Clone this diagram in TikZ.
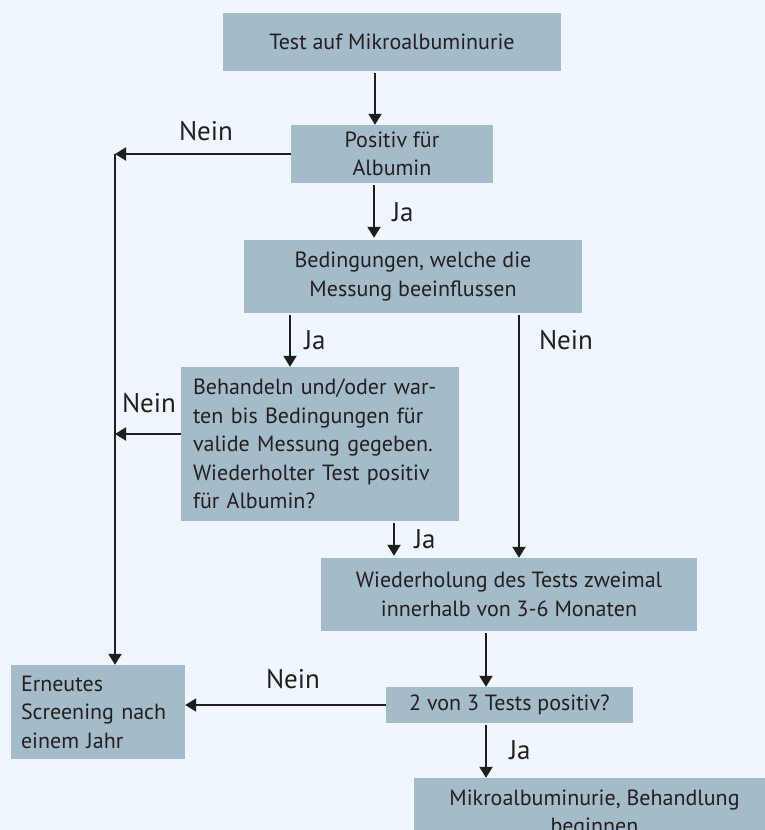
\documentclass[tikz,border=0pt]{standalone}
\usepackage{fontspec}
\setmainfont{PT Sans}
\usetikzlibrary{arrows.meta}
\definecolor{bgc}{HTML}{EFF6FE}
\definecolor{boxc}{HTML}{A4BBCA}
\definecolor{txt}{HTML}{231F20}
\definecolor{arrc}{HTML}{1E1E1E}
\newcommand{\bodyfont}{\fontsize{22}{28.5}\selectfont}
\newcommand{\labfont}{\fontsize{27}{30}\selectfont}
\tikzset{
  box/.style={fill=boxc, draw=none, inner sep=0pt, font=\bodyfont, text=txt},
  arr/.style={draw=arrc, line width=2pt, -{Triangle[width=13pt,length=11pt]}},
  lab/.style={font=\labfont, text=txt, inner sep=0pt},
}
\begin{document}
\begin{tikzpicture}[x=1pt,y=-1pt]
\useasboundingbox (0,0) rectangle (765,830);
\clip (0,0) rectangle (765,830);
\fill[bgc] (0,0) rectangle (765,830);

\node[box, minimum width=338pt, minimum height=58pt, align=center] (b1) at (392,42) {Test auf Mikroalbuminurie};
\node[box, minimum width=202pt, minimum height=58pt, align=center] (b2) at (392,154) {Positiv für\\Albumin};
\node[box, minimum width=338pt, minimum height=73pt, align=center] (b3) at (413,276.5) {Bedingungen, welche die\\Messung beeinflussen};
\node[box, minimum width=278pt, minimum height=154pt, text width=254pt, align=left] (b4) at (320,444) {Behandeln und/oder war-\\ten bis Bedingungen für\\valide Messung gegeben.\\Wiederholter Test positiv\\für Albumin?};
\node[box, minimum width=376pt, minimum height=73pt, align=center] (b5) at (509,594.5) {Wiederholung des Tests zweimal\\innerhalb von 3-6 Monaten};
\node[box, minimum width=247pt, minimum height=36pt, align=center] (b6) at (509.5,705) {2 von 3 Tests positiv?};
\node[box, minimum width=361pt, minimum height=72pt, align=center] (b7) at (594.5,814) {Mikroalbuminurie, Behandlung\\beginnen};
\node[box, minimum width=174pt, minimum height=94pt, text width=154pt, align=left] (b8) at (98,712) {Erneutes\\Screening nach\\einem Jahr};

\coordinate (j1) at (115,154);
\coordinate (j2) at (115,434);

\draw[arr] ([xshift=-17pt,yshift=-2pt]b1.south) -- ([xshift=-17pt]b2.north);
\draw[arr] (b2.west) -- (j1);
\draw[arr] (j1) -- (j1 |- b8.north);
\draw[arr] ([xshift=-18pt,yshift=-2pt]b2.south) -- ([xshift=-39pt,yshift=2pt]b3.north);
\draw[arr] ([xshift=-123pt,yshift=-2pt]b3.south) -- ([xshift=-30pt]b4.north);
\draw[arr] ([xshift=106pt,yshift=-2pt]b3.south) -- ([xshift=10pt]b5.north);
\draw[arr] ([yshift=10pt]b4.west) -- (j2);
\draw[arr] ([xshift=74pt,yshift=-2pt]b4.south) -- ([xshift=-115pt,yshift=2pt]b5.north);
\draw[arr] ([xshift=-23pt,yshift=-2pt]b5.south) -- ([xshift=-23.5pt]b6.north);
\draw[arr] (b6.west) -- (b6.west -| b8.east);
\draw[arr] ([xshift=-23.5pt,yshift=-2pt]b6.south) -- ([xshift=-108.5pt]b7.north);

\node[lab] (l1) at (206,131) {Nein};
\node[lab] (l2) at (403,212) {Ja};
\node[lab] (l3) at (315,340) {Ja};
\node[lab] (l4) at (566,340) {Nein};
\node[lab] (l5) at (149,403) {Nein};
\node[lab] (l6) at (425,539) {Ja};
\node[lab] (l7) at (293,679) {Nein};
\node[lab] (l8) at (520,750) {Ja};
\end{tikzpicture}
\end{document}
